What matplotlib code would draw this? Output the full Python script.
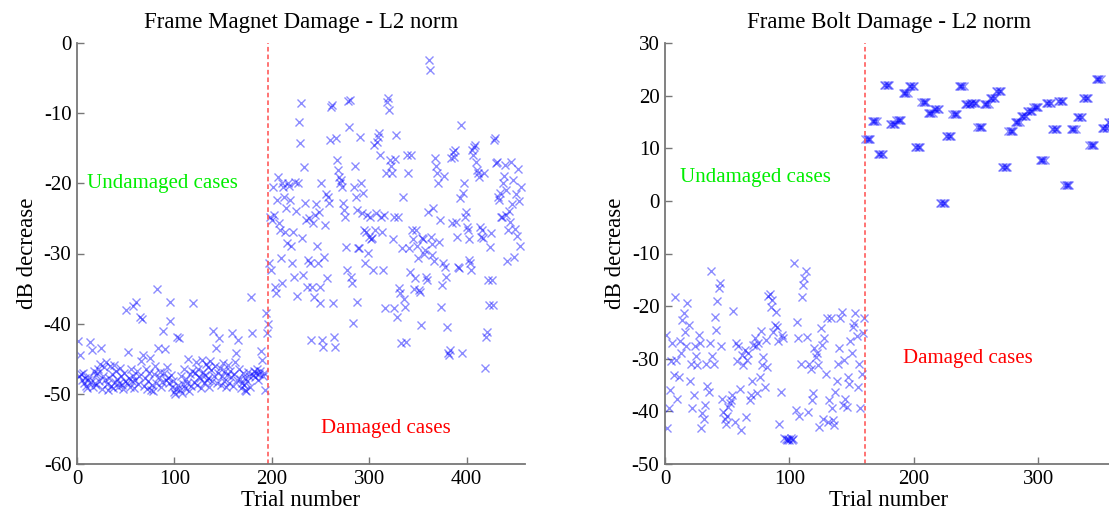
import numpy as np
import matplotlib
matplotlib.use("Agg")
import matplotlib.pyplot as plt

plt.rcParams["font.family"] = ["Liberation Serif", "DejaVu Serif"]
plt.rcParams["axes.unicode_minus"] = False

# ------------------------------------------------------------------
# data (dB decrease per trial)
# ------------------------------------------------------------------
magnet_undamaged = [
    -42.5, -47.5, -44.5, -47.2, -48.0, -47.0, -48.5, -47.8, -48.9, -49.2,
    -48.0, -47.6, -42.6, -48.3, -43.7, -49.0, -46.8, -48.5, -47.3, -48.8,
    -47.0, -46.5, -48.2, -45.8, -43.5, -49.3, -47.4, -46.2, -48.0, -45.5,
    -48.6, -49.4, -47.8, -46.0, -48.9, -47.2, -49.1, -45.9, -48.3, -46.7,
    -47.9, -49.0, -48.4, -46.3, -47.5, -48.8, -49.3, -47.0, -48.1, -38.1,
    -48.5, -44.1, -47.8, -49.0, -46.5, -48.2, -37.5, -47.4, -49.2, -48.0,
    -36.9, -46.8, -48.6, -47.5, -39.1, -45.3, -39.4, -44.4, -48.9, -47.7,
    -46.4, -49.3, -48.1, -47.0, -44.9, -49.5, -48.7, -49.6, -47.2, -46.0,
    -48.4, -35.1, -43.5, -47.6, -46.9, -49.0, -48.3, -41.0, -47.1, -43.6,
    -48.0, -46.2, -47.8, -48.5, -39.6, -36.9, -47.3, -49.0, -48.1, -49.7,
    -50.0, -49.3, -41.9, -48.8, -42.1, -49.5, -47.4, -49.9, -48.6, -46.5,
    -49.2, -47.9, -48.5, -45.0, -49.6, -47.2, -48.9, -46.8, -37.1, -48.3,
    -47.0, -45.5, -48.7, -46.4, -47.6, -47.8, -49.1, -45.2, -46.9, -48.4,
    -47.3, -45.8, -48.0, -46.2, -47.7, -49.0, -45.3, -46.6, -48.2, -41.0,
    -47.4, -46.1, -43.5, -48.5, -47.0, -42.0, -46.3, -48.8, -47.5, -45.6,
    -48.1, -46.7, -49.0, -47.3, -45.9, -48.4, -46.8, -47.6, -41.4, -48.9,
    -47.2, -45.4, -44.2, -48.0, -42.3, -46.5, -47.9, -49.2, -48.5, -47.0,
    -48.7, -49.5, -47.8, -49.6, -48.2, -46.9, -47.5, -49.0, -36.2, -41.4,
    -47.3, -46.8, -47.6, -47.0, -46.5, -48.0, -47.2, -46.7, -43.9, -45.2,
    -47.4, -47.1, -49.4, -38.5, -41.3, -40.0,
]

magnet_damaged = [
    -31.3, -24.8, -32.3, -25.2, -20.5, -24.5, -34.8, -35.6, -22.4, -19.1,
    -25.6, -26.6, -30.6, -34.2, -19.9, -20.5, -21.9, -27.0, -23.5, -28.5,
    -19.9, -20.4, -22.4, -28.9, -31.3, -26.9, -33.3, -19.8, -24.0, -36.0,
    -19.9, -11.3, -14.3, -8.5, -27.8, -33.0, -17.7, -22.8, -25.2, -34.8,
    -30.9, -24.9, -31.3, -42.3, -34.8, -25.6, -36.2, -24.5, -23.0, -29.0,
    -31.3, -24.1, -34.8, -37.0, -19.9, -42.3, -43.3, -30.5, -26.0, -21.5,
    -33.5, -21.9, -22.8, -13.8, -9.1, -8.8, -37.0, -41.9, -43.3, -13.5,
    -16.7, -18.1, -19.1, -19.9, -19.5, -20.5, -22.8, -23.8, -24.8, -29.1, -32.3,
    -8.3, -12.0, -8.1, -33.3, -34.2, -39.9, -20.5, -17.5, -21.9, -23.8,
    -36.9, -29.2, -29.2, -13.4, -19.9, -24.2, -21.4, -26.6, -31.3, -27.0,
    -24.5, -29.9, -27.6, -24.8, -28.0, -27.8, -32.3, -14.5, -26.6, -24.2,
    -14.1, -13.4, -12.8, -16.0, -24.8, -27.0, -32.3, -24.5, -37.7, -18.5,
    -8.4, -7.8, -9.5, -16.7, -17.6, -18.5, -28.0, -24.8, -37.7, -16.5,
    -13.1, -39.0, -24.8, -34.9, -35.7, -42.7, -29.2, -21.9, -36.5, -37.6,
    -42.6, -16.0, -18.5, -29.2, -32.6, -16.0, -26.6, -28.0, -35.0, -33.5,
    -26.6, -29.0, -30.6, -35.2, -35.5, -40.2, -27.8, -28.0, -30.0, -29.5,
    -33.3, -33.8, -24.1, -2.4, -3.8, -27.6, -28.6, -30.2, -23.5, -31.0,
    -16.4, -17.6, -18.5, -19.9, -28.3, -25.2, -37.6, -34.5, -31.3, -19.0,
    -31.9, -33.3, -40.5, -44.2, -44.4, -43.7, -16.4, -25.6, -15.5, -16.2,
    -15.2, -25.5, -27.6, -31.9, -32.1, -22.1, -11.7, -44.2, -21.4, -20.0,
    -24.8, -24.1, -26.2, -26.6, -28.0, -30.9, -31.3, -32.3, -15.2, -16.0,
    -14.8, -14.5, -17.0, -18.1, -18.5, -19.1, -26.2, -27.6, -26.6, -27.8,
    -18.5, -46.3, -41.9, -41.2, -33.8, -37.3, -29.1, -27.1, -33.8, -37.3,
    -13.8, -13.5, -17.1, -17.0, -21.9, -22.4, -21.4, -24.8, -24.8, -20.0, -19.0,
    -17.4, -21.0, -24.5, -31.0, -26.6, -24.0, -25.5, -17.0, -23.0, -19.5,
    -30.5, -26.5, -21.5, -27.5, -18.0, -22.5, -29.0, -20.5,
]

bolt_undamaged = [
    -25.4, -43.2, -39.4, -36.0, -30.5, -27.0, -33.0, -18.3, -30.2, -37.6,
    -33.5, -26.7, -28.9, -22.6, -21.3, -25.0, -27.6, -19.5, -23.6, -34.2,
    -31.0, -39.4, -36.9, -27.6, -29.4, -31.2, -25.4, -27.0, -43.2, -40.4,
    -41.4, -38.8, -31.0, -35.1, -36.3, -27.0, -13.3, -29.4, -31.0, -22.0,
    -24.5, -19.1, -16.6, -15.6, -27.6, -37.6, -40.1, -41.4, -42.4, -40.8,
    -39.1, -38.4, -37.9, -36.9, -21.0, -42.1, -27.0, -30.5, -27.6, -35.7,
    -43.5, -29.2, -31.2, -28.3, -41.1, -30.2, -28.9, -37.9, -36.9, -34.2,
    -27.3, -26.0, -27.6, -36.6, -27.0, -33.5, -24.8, -31.2, -29.6, -35.4,
    -26.4, -31.5, -18.0, -17.7, -20.2, -18.9, -25.0, -23.6, -21.1, -23.9,
    -26.7, -42.4, -36.3, -25.4, -26.0, -45.0, -45.3, -45.5, -45.2, -45.4,
    -45.1, -45.5, -45.3, -11.9, -39.8, -23.0, -26.0, -40.8, -31.0, -18.3,
    -16.0, -14.7, -13.3, -25.9, -40.1, -31.0, -32.0, -37.9, -36.6, -28.0,
    -29.6, -28.9, -31.2, -42.9, -24.2, -27.3, -41.4, -26.0, -32.9, -22.3,
    -42.1, -37.9, -22.3, -39.4, -41.6, -42.6, -36.3, -34.2, -31.0, -28.0,
    -22.3, -21.1, -38.8, -30.2, -37.6, -39.1, -33.5, -34.8, -26.7, -28.9,
    -23.9, -23.3, -21.4, -25.7, -35.4, -31.0, -39.4, -32.9, -25.2, -22.3,
]

# damaged bolt trials come in runs of nearly identical values
bolt_damaged_levels = [
    11.8, 15.2, 8.9, 22.0, 14.6, 15.4, 20.5, 21.8, 10.2, 18.8,
    16.7, 17.4, -0.4, 12.3, 16.5, 21.8, 18.4, 18.6, 14.0, 18.4,
    19.5, 20.9, 6.4, 13.3, 15.0, 16.1, 17.1, 17.8, 7.8, 18.6,
    13.6, 19.0, 3.0, 13.6, 15.9, 19.5, 10.6, 23.2, 13.8, 15.0,
]
bolt_run_length = 5

panels = [
    dict(title="Frame Magnet Damage - L2 norm",
         y=np.array(magnet_undamaged + magnet_damaged),
         n_undamaged=len(magnet_undamaged),
         xlim=(0, 460), ylim=(-60, 0),
         xticks=[0, 100, 200, 300, 400], yticks=range(-60, 1, 10),
         undam_xy=(10, -20), dam_xy=(251, -55)),
    dict(title="Frame Bolt Damage - L2 norm",
         y=np.concatenate([bolt_undamaged,
                           np.repeat(bolt_damaged_levels, bolt_run_length)]),
         n_undamaged=len(bolt_undamaged),
         xlim=(0, 360), ylim=(-50, 30),
         xticks=[0, 100, 200, 300], yticks=range(-50, 31, 10),
         undam_xy=(12, 4.5), dam_xy=(191, -30)),
]

# ------------------------------------------------------------------
# figure
# ------------------------------------------------------------------
W, H = 1109, 523
fig = plt.figure(figsize=(W / 100, H / 100), dpi=100)
ax_rects = [
    [77 / W, 59 / H, 448 / W, 421 / H],
    [665 / W, 59 / H, 448 / W, 421 / H],
]

for rect, p in zip(ax_rects, panels):
    ax = fig.add_axes(rect)
    trials = np.arange(1, len(p["y"]) + 1)
    ax.plot(trials, p["y"], linestyle="none", marker="x", color="blue",
            markersize=5.5, markeredgewidth=1.0, alpha=0.45)
    ax.axvline(p["n_undamaged"] + 0.5, color="#ff4d4d", linestyle=(0, (3, 2)),
               linewidth=1.1)

    ax.text(*p["undam_xy"], "Undamaged cases", color="#00ee00", fontsize=15,
            va="center", ha="left")
    ax.text(*p["dam_xy"], "Damaged cases", color="red", fontsize=15,
            va="center", ha="left")

    ax.set_xlim(*p["xlim"])
    ax.set_ylim(*p["ylim"])
    ax.set_xticks(p["xticks"])
    ax.set_yticks(list(p["yticks"]))
    ax.set_title(p["title"], fontsize=16.5, pad=11)
    ax.set_xlabel("Trial number", fontsize=16.5, labelpad=1)
    ax.set_ylabel("dB decrease", fontsize=16.5, labelpad=4)

    for side in ["top", "right"]:
        ax.spines[side].set_visible(False)
    for side in ["left", "bottom"]:
        ax.spines[side].set_color("#777777")
        ax.spines[side].set_linewidth(1.3)
    ax.tick_params(direction="in", length=5, width=1, color="#777777",
                   labelsize=15, pad=4)

fig.savefig("out.png", dpi=100)
